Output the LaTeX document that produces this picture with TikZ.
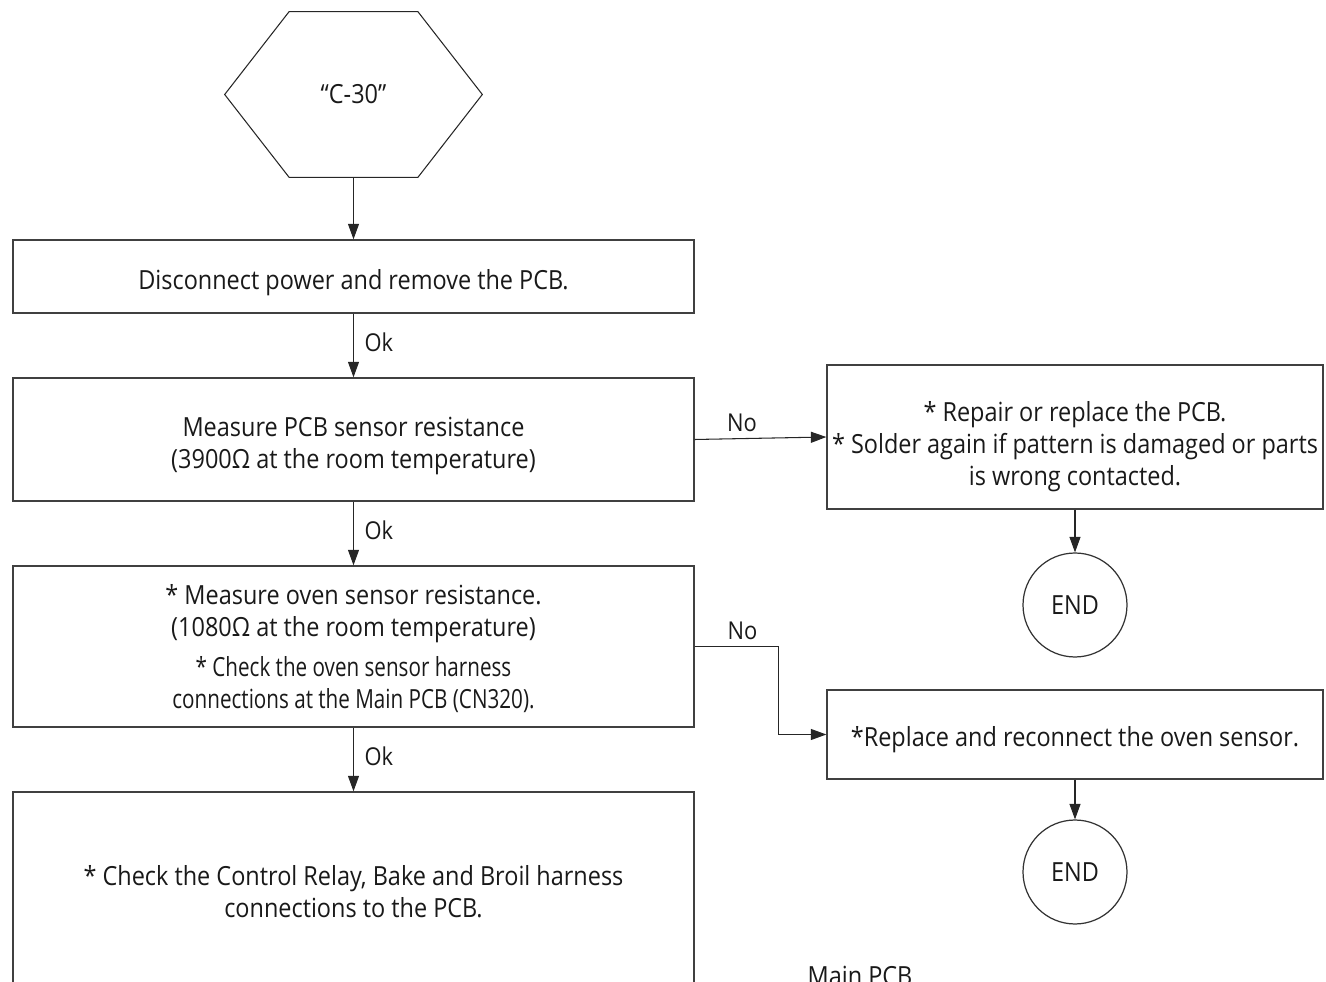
\documentclass[tikz,border=0pt]{standalone}
\usepackage{fontspec}
\setmainfont{Open Sans}[FakeStretch=0.89]
\usetikzlibrary{arrows.meta,calc}

\tikzset{
  stepbox/.style={draw=black!75,line width=0.8pt,align=center,inner sep=0pt,
    font=\fontsize{15}{18.2}\selectfont,text=black!90},
  leftbox/.style={stepbox,minimum width=13.62cm},
  rightbox/.style={stepbox,minimum width=9.92cm},
  endnode/.style={circle,draw=black!80,line width=0.7pt,minimum size=2.08cm,inner sep=0pt,
    font=\fontsize{15}{18}\selectfont,text=black!90},
  flow/.style={->,draw=black!85,line width=0.6pt},
  lbl/.style={font=\fontsize{14}{16}\selectfont,text=black!90,inner sep=2pt}
}
\newcommand{\narrow}[1]{\scalebox{0.88}[1]{#1}}
\newcommand{\dn}[1]{\rule{0pt}{#1}}

\begin{document}
\begin{tikzpicture}[x=0.02cm,y=-0.02cm,>={Triangle[length=0.31cm,width=0.22cm]}]
\clip (0,0) rectangle (1326,982);

% start symbol
\node[minimum width=5.14cm,minimum height=3.3cm,inner sep=0pt,
  font=\fontsize{15}{18}\selectfont,text=black!90] (hex) at (353.5,94.5) {“C-30”};
\draw[draw=black!85,line width=0.6pt] (hex.west) -- ($(hex.north west)!0.25!(hex.north east)$)
  -- ($(hex.north west)!0.75!(hex.north east)$) -- (hex.east)
  -- ($(hex.south west)!0.75!(hex.south east)$) -- ($(hex.south west)!0.25!(hex.south east)$) -- cycle;

% left column
\node[leftbox,minimum height=1.46cm] (disc) at (353.5,276.5) {\dn{18.3pt}Disconnect power and remove the PCB.};
\node[leftbox,minimum height=2.46cm] (pcbsens) at (353.5,439.5)
  {\dn{18.3pt}Measure PCB sensor resistance\\(3900Ω at the room temperature)};
\node[leftbox,minimum height=3.22cm] (ovensens) at (353.5,646.5)
  {\dn{13.7pt}* Measure oven sensor resistance.\\(1080Ω at the room temperature)\\[4.5pt]
   \narrow{* Check the oven sensor harness}\\\narrow{connections at the Main PCB (CN320).}};
\node[leftbox,minimum height=4cm] (relay) at (353.5,892)
  {* Check the Control Relay, Bake and Broil harness\\connections to the PCB.};

% right column
\node[rightbox,minimum height=2.88cm] (repair) at (1075,437)
  {\dn{22.9pt}* Repair or replace the PCB.\\* Solder again if pattern is damaged or parts\\is wrong contacted.};
\node[endnode] (end1) at (1075,605) {END};
\node[rightbox,minimum height=1.78cm] (replace) at (1075,734.5)
  {\dn{17.1pt}*Replace and reconnect the oven sensor.};
\node[endnode] (end2) at (1075,872) {END};

\node[lbl,anchor=north,inner sep=0pt,font=\fontsize{15}{18}\selectfont] (mainpcb) at (860,966) {Main PCB};

% connectors
\draw[flow] (hex.south) -- (disc.north);
\draw[flow] (disc.south) -- node[lbl,right,xshift=0.14cm,pos=0.45]{Ok} (pcbsens.north);
\draw[flow] (pcbsens.south) -- node[lbl,right,xshift=0.14cm,pos=0.45]{Ok} (ovensens.north);
\draw[flow] (ovensens.south) -- node[lbl,right,xshift=0.14cm,pos=0.45]{Ok} (relay.north);
\draw[flow] (pcbsens.east) -- node[lbl,above,yshift=0.06cm,pos=0.36]{No} (repair.west);
\draw[flow] (repair.south) -- (end1.north);
\draw[flow] (ovensens.east) -- node[lbl,above,yshift=0.06cm,pos=0.57]{No} ++(84,0) |- (replace.west);
\draw[flow] (replace.south) -- (end2.north);
\end{tikzpicture}
\end{document}
